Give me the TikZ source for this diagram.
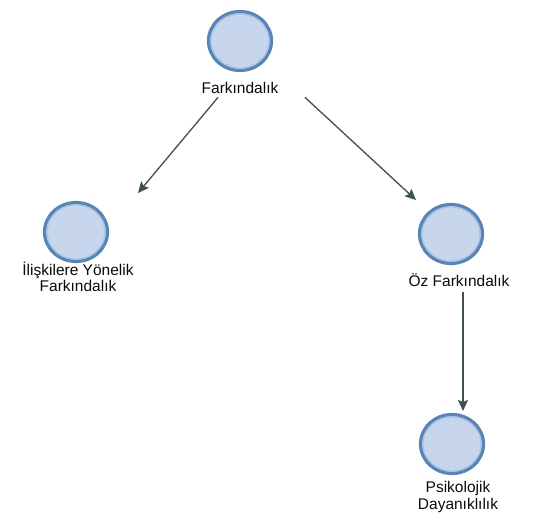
\documentclass[tikz,border=0pt]{standalone}
\usepackage{fontspec}
\setmainfont{Liberation Sans}
\usetikzlibrary{shapes.geometric,arrows.meta,calc}
\definecolor{ringblue}{HTML}{5A84B6}
\definecolor{fillblue}{HTML}{C7D6EC}
\definecolor{innerblue}{HTML}{A9C4E8}
\definecolor{edgegray}{HTML}{3E5050}
\definecolor{labeltext}{HTML}{0A0A0A}
\begin{document}
\begin{tikzpicture}[x=1pt,y=-1pt,
  bubble/.style={ellipse, draw=ringblue, line width=3.2pt, fill=fillblue,
    minimum width=63pt, minimum height=59pt, inner sep=0pt,
    path picture={\draw[innerblue,line width=1.2pt]
      (path picture bounding box.center) ellipse (29pt and 27pt);}},
  caption/.style={font=\fontsize{15.5}{16.5}\selectfont, align=center,
    inner sep=0pt, text=labeltext},
  conn/.style={draw=edgegray, line width=1.3pt,
    -{Stealth[length=11pt,width=10pt,inset=2pt]}}]
\useasboundingbox (0,0) rectangle (536,525);

% nodes: a bubble with its caption underneath
\node[bubble] (fark) at (240,41) {};
\node[caption] (farkLbl) at (240,88) {Farkındalık};

\node[bubble] (iliski) at (76,232) {};
\node[caption] (iliskiLbl) at (78,277) {İlişkilere Yönelik\\Farkındalık};

\node[bubble] (oz) at (451,234) {};
\node[caption] (ozLbl) at (459,280) {Öz Farkındalık};

\node[bubble] (psiko) at (452,444) {};
\node[caption] (psikoLbl) at (458,497) {Psikolojik\\Dayanıklılık};

% connectors
\draw[conn] ($(farkLbl.south)+(-22,3.5)$) -- ($(iliski)+(62,-39)$);
\draw[conn] ($(farkLbl.south)+(65,3.5)$) -- ($(oz)+(-35,-34)$);
\draw[conn] ($(ozLbl.south)+(4,5)$) -- ($(psiko)+(11,-33)$);
\end{tikzpicture}
\end{document}
